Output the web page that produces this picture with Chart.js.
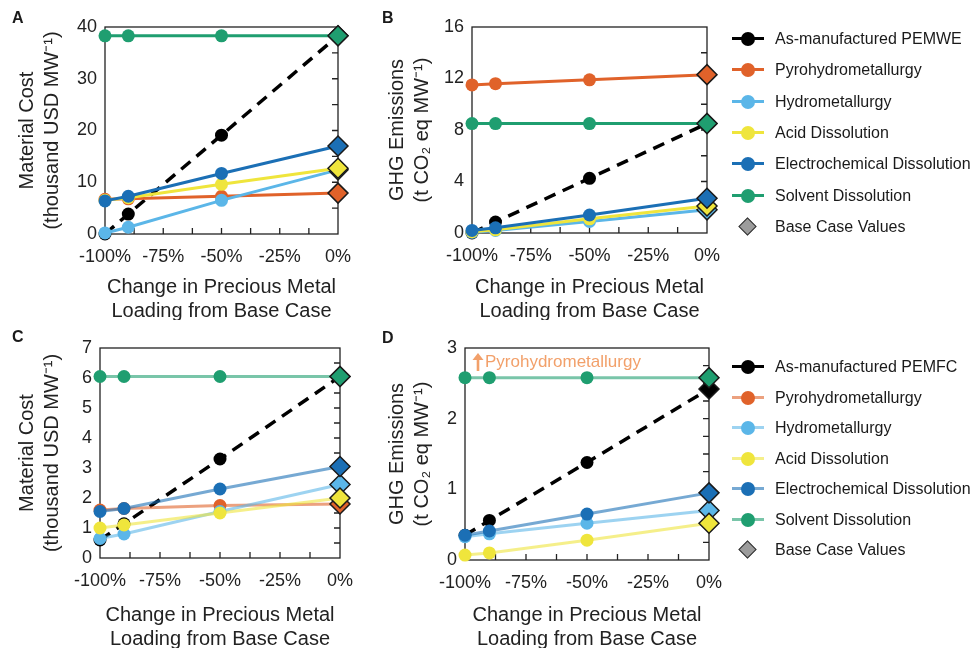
<!DOCTYPE html>
<html>
<head>
<meta charset="utf-8">
<script src="https://cdn.jsdelivr.net/npm/chart.js@4.4.0/dist/chart.umd.min.js"></script>
<style>
  body { margin: 0; background: #fff; width: 970px; height: 648px; position: relative; overflow: hidden;
         font-family: "Liberation Sans", Arial, sans-serif; color: #1a1a1a; }
  canvas { position: absolute; }
  .tag { position: absolute; font-weight: bold; font-size: 16px; line-height: 16px; }
  .item { position: absolute; left: 728px; height: 20px; width: 240px; white-space: nowrap; }
  .item .ln { position: absolute; left: 4px; top: 8px; width: 32px; height: 3px; }
  .item .dot { position: absolute; left: 13px; top: 3px; width: 14px; height: 14px; border-radius: 50%; }
  .item .dia { position: absolute; left: 13px; top: 3px; width: 13px; height: 13px; transform: rotate(45deg);
               background: #9c9c9c; border: 1.5px solid #333; box-sizing: border-box; }
  .item .txt { position: absolute; left: 47px; top: 0; line-height: 20px; font-size: 16px; }
</style>
</head>
<body>
<canvas id="chartA"></canvas>
<canvas id="chartB"></canvas>
<canvas id="chartC"></canvas>
<canvas id="chartD"></canvas>
<div class="tag" style="left:12px; top:10px">A</div>
<div class="tag" style="left:382px; top:10px">B</div>
<div class="tag" style="left:12px; top:329px">C</div>
<div class="tag" style="left:382px; top:330px">D</div>
<div id="legends"></div>

<script>
const loadings = [-100, -90, -50, 0];
const seriesNames = ['As-manufactured', 'Pyrohydrometallurgy', 'Hydrometallurgy', 'Acid Dissolution',
                     'Electrochemical Dissolution', 'Solvent Dissolution'];
const seriesColors = ['#000000', '#e0622a', '#5bb6e8', '#efe53c', '#1b6fb5', '#1f9e70'];
const drawOrder = [6, 5, 4, 3, 2, 1];

// A - PEMWE material cost (thousand USD/MW)
const costWEasMade = [0, 3.85, 19.1, 38.3];
const costWEpyro = [6.7, 6.8, 7.3, 7.9];
const costWEhydro = [0.2, 1.3, 6.5, 12.4];
const costWEacid = [6.5, 7.0, 9.6, 12.7];
const costWEelectro = [6.4, 7.3, 11.7, 17.0];
const costWEsolvent = [38.3, 38.3, 38.3, 38.3];

// B - PEMWE GHG emissions (t CO2 eq/MW)
const ghgWEasMade = [0, 0.85, 4.25, 8.5];
const ghgWEpyro = [11.5, 11.6, 11.9, 12.3];
const ghgWEhydro = [0.05, 0.2, 0.9, 1.8];
const ghgWEacid = [0.1, 0.25, 1.1, 2.1];
const ghgWEelectro = [0.2, 0.4, 1.4, 2.7];
const ghgWEsolvent = [8.5, 8.5, 8.5, 8.5];

// C - PEMFC material cost
const costFCasMade = [0.6, 1.14, 3.3, 6.05];
const costFCpyro = [1.6, 1.65, 1.75, 1.8];
const costFChydro = [0.65, 0.8, 1.55, 2.45];
const costFCacid = [1.0, 1.1, 1.5, 2.0];
const costFCelectro = [1.55, 1.65, 2.3, 3.05];
const costFCsolvent = [6.05, 6.05, 6.05, 6.05];

// D - PEMFC GHG emissions (pyro is off the top of the axis)
const ghgFCasMade = [0.35, 0.56, 1.38, 2.42];
const ghgFChydro = [0.33, 0.37, 0.52, 0.70];
const ghgFCacid = [0.07, 0.1, 0.28, 0.52];
const ghgFCelectro = [0.35, 0.41, 0.65, 0.95];
const ghgFCsolvent = [2.58, 2.58, 2.58, 2.58];

const xTickStep = 25;
const xMinorStep = 12.5;

Chart.defaults.font.family = '"Liberation Sans", Arial, sans-serif';
Chart.defaults.color = '#222';

function fade(hex) {
  const n = parseInt(hex.slice(1), 16);
  return 'rgba(' + (n >> 16) + ',' + ((n >> 8) & 255) + ',' + (n & 255) + ',0.6)';
}

// box frame + inward minor ticks on right and bottom edges
const frameTicks = {
  id: 'frameTicks',
  beforeDatasetsDraw(chart, args, opts) {
    const { ctx, chartArea: a, scales: { x, y } } = chart;
    ctx.save();
    ctx.strokeStyle = '#222';
    ctx.lineWidth = 1.3;
    ctx.strokeRect(a.left, a.top, a.right - a.left, a.bottom - a.top);
    ctx.beginPath();
    for (let v = opts.yMinor; v < y.max - 1e-9; v += opts.yMinor) {
      const py = y.getPixelForValue(v);
      ctx.moveTo(a.right, py);
      ctx.lineTo(a.right - 6, py);
    }
    for (let v = x.min + xMinorStep; v < x.max; v += xMinorStep) {
      const px = x.getPixelForValue(v);
      ctx.moveTo(px, a.bottom);
      ctx.lineTo(px, a.bottom - 6);
    }
    ctx.stroke();
    ctx.restore();
  },
  afterDatasetsDraw(chart, args, opts) {
    if (!opts.note) return;
    const { ctx, chartArea: a } = chart;
    const ax = a.left + 13, ay = a.top + 14;
    ctx.save();
    ctx.fillStyle = '#f2a06a';
    // small up arrow
    ctx.beginPath();
    ctx.moveTo(ax, ay - 9);
    ctx.lineTo(ax + 5.5, ay - 2);
    ctx.lineTo(ax - 5.5, ay - 2);
    ctx.closePath();
    ctx.fill();
    ctx.fillRect(ax - 1.3, ay - 3, 2.6, 12);
    ctx.font = '17px "Liberation Sans", Arial, sans-serif';
    ctx.textBaseline = 'middle';
    ctx.fillText(opts.note, ax + 7, ay);
    ctx.restore();
  }
};

function makeChart(id, box, area, yMax, yStep, yMinor, yTitle, values, faded, note) {
  const cv = document.getElementById(id);
  cv.style.left = box[0] + 'px';
  cv.style.top = box[1] + 'px';
  cv.width = box[2];
  cv.height = box[3];

  const datasets = [];
  values.forEach(function(vals, k) {
    if (!vals) return;
    const c = seriesColors[k];
    const black = k === 0;
    datasets.push({
      label: seriesNames[k],
      data: loadings.map((x, i) => ({ x: x, y: vals[i] })),
      borderColor: faded && !black ? fade(c) : c,
      borderWidth: black ? 3.5 : 3,
      borderDash: black ? [12, 8] : [],
      pointStyle: ['circle', 'circle', 'circle', 'rectRot'],
      pointRadius: [6.5, 6.5, 6.5, 10],
      pointBackgroundColor: c,
      pointBorderColor: [c, c, c, '#1a1a1a'],
      pointBorderWidth: [0, 0, 0, 1.5],
      order: drawOrder[k],
      clip: false
    });
  });

  new Chart(cv, {
    type: 'line',
    data: { datasets: datasets },
    options: {
      responsive: false,
      animation: false,
      layout: { padding: { top: area[1] - box[1], right: box[0] + box[2] - area[2], left: 0, bottom: 0 } },
      plugins: {
        legend: { display: false },
        tooltip: { enabled: false },
        frameTicks: { yMinor: yMinor, note: note }
      },
      scales: {
        x: {
          type: 'linear', min: -100, max: 0,
          grid: { display: false }, border: { display: false },
          ticks: { stepSize: xTickStep, padding: 4, maxRotation: 0, font: { size: 18 },
                   callback: v => v + '%' },
          title: { display: true, text: ['Change in Precious Metal', 'Loading from Base Case'],
                   font: { size: 20, lineHeight: 1.2 }, padding: { top: 0, bottom: -3 } },
          afterFit: s => { s.height = box[1] + box[3] - area[3]; }
        },
        y: {
          min: 0, max: yMax,
          grid: { display: false }, border: { display: false },
          ticks: { stepSize: yStep, padding: 0, font: { size: 18 } },
          title: { display: true, text: yTitle, font: { size: 20, lineHeight: 1.25 },
                   padding: { top: 14.5, bottom: 0 } },
          afterFit: s => { s.width = area[0] - box[0]; }
        }
      }
    },
    plugins: [frameTicks]
  });
}

const costTitle = ['Material Cost', '(thousand USD MW\u207B\u00B9)'];
const ghgTitle = ['GHG Emissions', '(t CO\u2082 eq MW\u207B\u00B9)'];

makeChart('chartA', [0, 0, 360, 320], [105, 27, 338, 234], 40, 10, 5, costTitle,
  [costWEasMade, costWEpyro, costWEhydro, costWEacid, costWEelectro, costWEsolvent], false);
makeChart('chartB', [370, 0, 360, 320], [472, 27, 707, 233], 16, 4, 2, ghgTitle,
  [ghgWEasMade, ghgWEpyro, ghgWEhydro, ghgWEacid, ghgWEelectro, ghgWEsolvent], false);
makeChart('chartC', [0, 320, 360, 328], [100, 348, 340, 558], 7, 1, 0.5, costTitle,
  [costFCasMade, costFCpyro, costFChydro, costFCacid, costFCelectro, costFCsolvent], true);
makeChart('chartD', [370, 320, 360, 328], [465, 348, 709, 560], 3, 1, 0.25, ghgTitle,
  [ghgFCasMade, null, ghgFChydro, ghgFCacid, ghgFCelectro, ghgFCsolvent], true,
  'Pyrohydrometallurgy');

// legends
function addLegend(device, yStart, yStep, faded) {
  const box = document.getElementById('legends');
  const labels = seriesNames.slice();
  labels[0] = 'As-manufactured ' + device;
  labels.forEach(function(name, k) {
    const c = seriesColors[k];
    const lineCol = faded && k > 0 ? fade(c) : c;
    const it = document.createElement('div');
    it.className = 'item';
    it.style.top = (yStart + k * yStep - 10) + 'px';
    it.innerHTML = '<div class="ln" style="background:' + lineCol + '"></div>' +
      '<div class="dot" style="background:' + c + '"></div><div class="txt">' + name + '</div>';
    box.appendChild(it);
  });
  const base = document.createElement('div');
  base.className = 'item';
  base.style.top = (yStart + 6 * yStep - 10) + 'px';
  base.innerHTML = '<div class="dia"></div><div class="txt">Base Case Values</div>';
  box.appendChild(base);
}
addLegend('PEMWE', 39, 31.3, false);
addLegend('PEMFC', 367, 30.5, true);
</script>
</body>
</html>
